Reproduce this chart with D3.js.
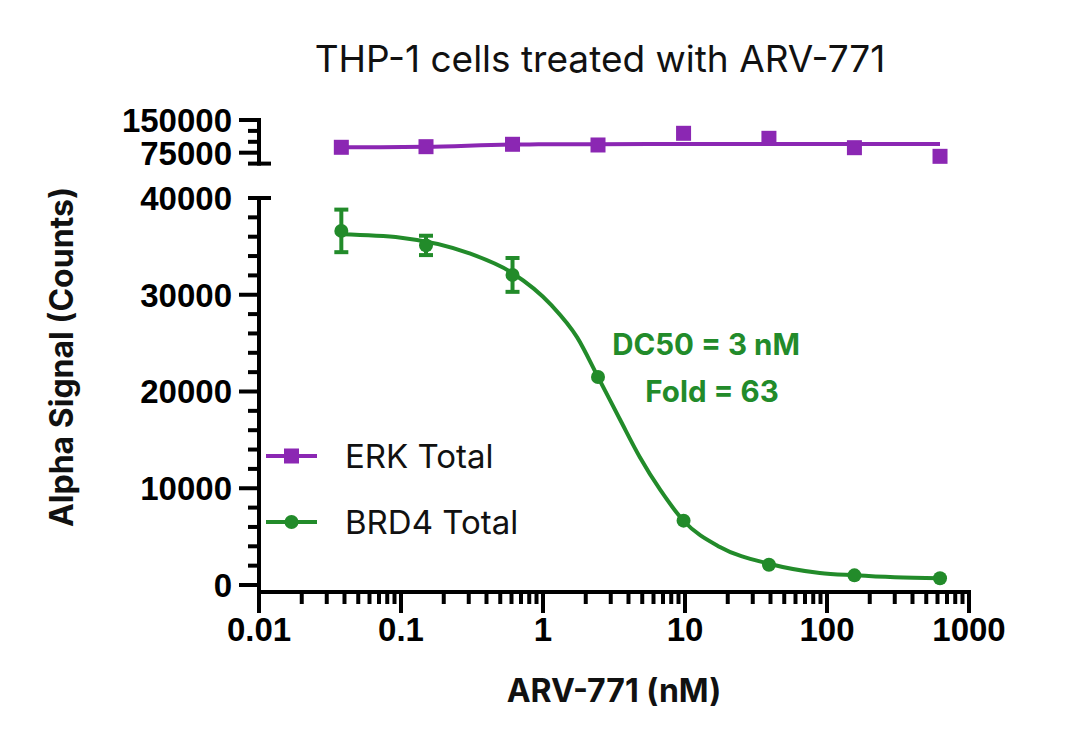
<!DOCTYPE html>
<html><head><meta charset="utf-8">
<script src="https://cdn.jsdelivr.net/npm/d3@7"></script>
<style>body{margin:0;background:#fff}</style>
</head><body>
<svg id="c" width="1080" height="750"></svg>
<script>
// ---- data ----
const conc = [0.038, 0.15, 0.61, 2.44, 9.77, 39, 156, 625];
const brd4 = [36600, 35100, 32050, 21500, 6650, 2100, 1000, 700];
const brd4Err = [2200, 1000, 1750, 0, 0, 0, 0, 0];
const erk = [87400, 88800, 94300, 92700, 119500, 108000, 86500, 66700];
const brd4FitConc = [0.038, 0.1, 0.3, 0.6, 1.15, 1.74, 2.44, 3.5, 4.8, 6.7, 9.8, 17.6, 39.7, 89, 156, 300, 625];
const brd4FitVals = [36250, 35900, 34300, 32300, 28900, 25600, 21500, 17050, 13230, 9820, 6615, 3930, 2170, 1240, 1000, 800, 700];
const erkFitConc = [0.038, 0.15, 0.61, 2.44, 9.77, 39, 156, 625];
const erkFitVals = [87400, 88500, 93800, 94500, 95000, 95000, 95000, 95000];
const xTicks = [0.01, 0.1, 1, 10, 100, 1000];
const xTickLabels = ["0.01", "0.1", "1", "10", "100", "1000"];
const yLowTicks = [0, 10000, 20000, 30000, 40000];
const yHighTicks = [75000, 150000];
const title = "THP-1 cells treated with ARV-771";
const xTitle = "ARV-771 (nM)";
const yTitle = "Alpha Signal (Counts)";
const annot = ["DC50 = 3 nM", "Fold = 63"];
const seriesNames = ["ERK Total", "BRD4 Total"];

const purple = "#8B27B3", green = "#228B2A";
const svg = d3.select("#c");
const x = d3.scaleLog().domain([0.01, 1000]).range([259, 969]);
const yLow = d3.scaleLinear().domain([0, 40000]).range([585, 198]);
const yHigh = d3.scaleLinear().domain([50000, 150000]).range([163.6, 120]);
const axisY = 592;
const sw = 4;
const tickFont = "'Liberation Sans', Arial, sans-serif";
const geoFont = "Inter, 'Noto Sans', sans-serif";
const tickSize = 33;

const g = svg.append("g");
// y axis lines
g.append("line").attr("x1",259).attr("x2",259).attr("y1",yHigh(150000)-sw/2).attr("y2",yHigh(50000)+sw/2).attr("stroke","#000").attr("stroke-width",sw);
g.append("line").attr("x1",259).attr("x2",259).attr("y1",yLow(40000)-sw/2).attr("y2",axisY).attr("stroke","#000").attr("stroke-width",sw);
// x axis line
g.append("line").attr("x1",259-sw/2).attr("x2",x(1000)+sw/2).attr("y1",axisY).attr("y2",axisY).attr("stroke","#000").attr("stroke-width",sw);

// y low ticks
const lowMinor = d3.range(2000, 40000, 2000).filter(v => v % 10000 !== 0);
lowMinor.forEach(v => g.append("line").attr("x1",248).attr("x2",259).attr("y1",yLow(v)).attr("y2",yLow(v)).attr("stroke","#000").attr("stroke-width",sw));
yLowTicks.forEach(v => {
  if (v === 40000) {
    g.append("line").attr("x1",248).attr("x2",271).attr("y1",yLow(v)).attr("y2",yLow(v)).attr("stroke","#000").attr("stroke-width",sw);
  } else {
    g.append("line").attr("x1",239).attr("x2",259).attr("y1",yLow(v)).attr("y2",yLow(v)).attr("stroke","#000").attr("stroke-width",sw);
  }
  g.append("text").attr("x",232).attr("y",yLow(v)).attr("dy","0.36em").attr("text-anchor","end")
    .attr("font-family",tickFont).attr("font-weight","bold").attr("font-size",tickSize).text(d3.format("d")(v));
});
// y high ticks
[100000,125000].forEach(v => g.append("line").attr("x1",248).attr("x2",259).attr("y1",yHigh(v)).attr("y2",yHigh(v)).attr("stroke","#000").attr("stroke-width",sw));
g.append("line").attr("x1",248).attr("x2",271).attr("y1",yHigh(50000)).attr("y2",yHigh(50000)).attr("stroke","#000").attr("stroke-width",sw);
yHighTicks.forEach(v => {
  g.append("line").attr("x1",239).attr("x2",259).attr("y1",yHigh(v)).attr("y2",yHigh(v)).attr("stroke","#000").attr("stroke-width",sw);
  g.append("text").attr("x",232).attr("y",yHigh(v)).attr("dy","0.36em").attr("text-anchor","end")
    .attr("font-family",tickFont).attr("font-weight","bold").attr("font-size",tickSize).text(d3.format("d")(v));
});

// x ticks
const minorX = [];
for (let e = -2; e < 3; e++) for (let m = 2; m <= 9; m++) minorX.push(m * Math.pow(10, e));
minorX.forEach(v => g.append("line").attr("x1",x(v)).attr("x2",x(v)).attr("y1",axisY).attr("y2",axisY+12).attr("stroke","#000").attr("stroke-width",sw));
xTicks.forEach((v,i) => {
  g.append("line").attr("x1",x(v)).attr("x2",x(v)).attr("y1",axisY).attr("y2",axisY+21).attr("stroke","#000").attr("stroke-width",sw);
  g.append("text").attr("x",x(v)).attr("y",641).attr("text-anchor","middle")
    .attr("font-family",tickFont).attr("font-weight","bold").attr("font-size",tickSize).text(xTickLabels[i]);
});

// fitted curves
const lineLow = d3.line().x(d=>x(d[0])).y(d=>yLow(d[1])).curve(d3.curveMonotoneX);
const lineHigh = d3.line().x(d=>x(d[0])).y(d=>yHigh(d[1])).curve(d3.curveMonotoneX);
svg.append("path").attr("d", lineLow(brd4FitConc.map((c,i)=>[c,brd4FitVals[i]]))).attr("fill","none").attr("stroke",green).attr("stroke-width",4);
svg.append("path").attr("d", lineHigh(erkFitConc.map((c,i)=>[c,erkFitVals[i]]))).attr("fill","none").attr("stroke",purple).attr("stroke-width",4);

// error bars
conc.forEach((c,i) => {
  if (!brd4Err[i]) return;
  const cx = x(c), t = yLow(brd4[i]+brd4Err[i]), b = yLow(brd4[i]-brd4Err[i]);
  svg.append("line").attr("x1",cx).attr("x2",cx).attr("y1",t).attr("y2",b).attr("stroke",green).attr("stroke-width",4);
  [t,b].forEach(yy => svg.append("line").attr("x1",cx-7).attr("x2",cx+7).attr("y1",yy).attr("y2",yy).attr("stroke",green).attr("stroke-width",4));
});
// points
conc.forEach((c,i) => {
  svg.append("circle").attr("cx",x(c)).attr("cy",yLow(brd4[i])).attr("r",7).attr("fill",green);
  svg.append("rect").attr("x",x(c)-7.5).attr("y",yHigh(erk[i])-7.5).attr("width",15).attr("height",15).attr("fill",purple);
});

// legend
const lg = [[purple, 456, "sq"], [green, 522, "ci"]];
lg.forEach((l,i) => {
  svg.append("line").attr("x1",266).attr("x2",317).attr("y1",l[1]).attr("y2",l[1]).attr("stroke",l[0]).attr("stroke-width",4);
  if (l[2]==="sq") svg.append("rect").attr("x",291.5-7.5).attr("y",l[1]-7.5).attr("width",15).attr("height",15).attr("fill",l[0]);
  else svg.append("circle").attr("cx",291.5).attr("cy",l[1]).attr("r",7).attr("fill",l[0]);
  svg.append("text").attr("x",345).attr("y",l[1]+12).attr("font-family",geoFont).attr("font-size",33).attr("font-weight",400).attr("fill","#111").text(seriesNames[i]);
});

// annotations
svg.append("text").attr("x",706).attr("y",355).attr("text-anchor","middle").attr("font-family",geoFont).attr("font-weight",700).attr("font-size",29.5).attr("fill",green).text(annot[0]);
svg.append("text").attr("x",712).attr("y",402).attr("text-anchor","middle").attr("font-family",geoFont).attr("font-weight",700).attr("font-size",29.5).attr("fill",green).text(annot[1]);

// titles
svg.append("text").attr("x",600).attr("y",72).attr("text-anchor","middle").attr("font-family",geoFont).attr("font-size",37).attr("fill","#111").text(title);
svg.append("text").attr("x",614).attr("y",702).attr("text-anchor","middle").attr("font-family",geoFont).attr("font-weight",700).attr("font-size",32).attr("fill","#111").text(xTitle);
svg.append("text").attr("transform","translate(73,357) rotate(-90)").attr("text-anchor","middle").attr("font-family",geoFont).attr("font-weight",700).attr("font-size",32).attr("fill","#111").text(yTitle);
</script>
</body></html>
